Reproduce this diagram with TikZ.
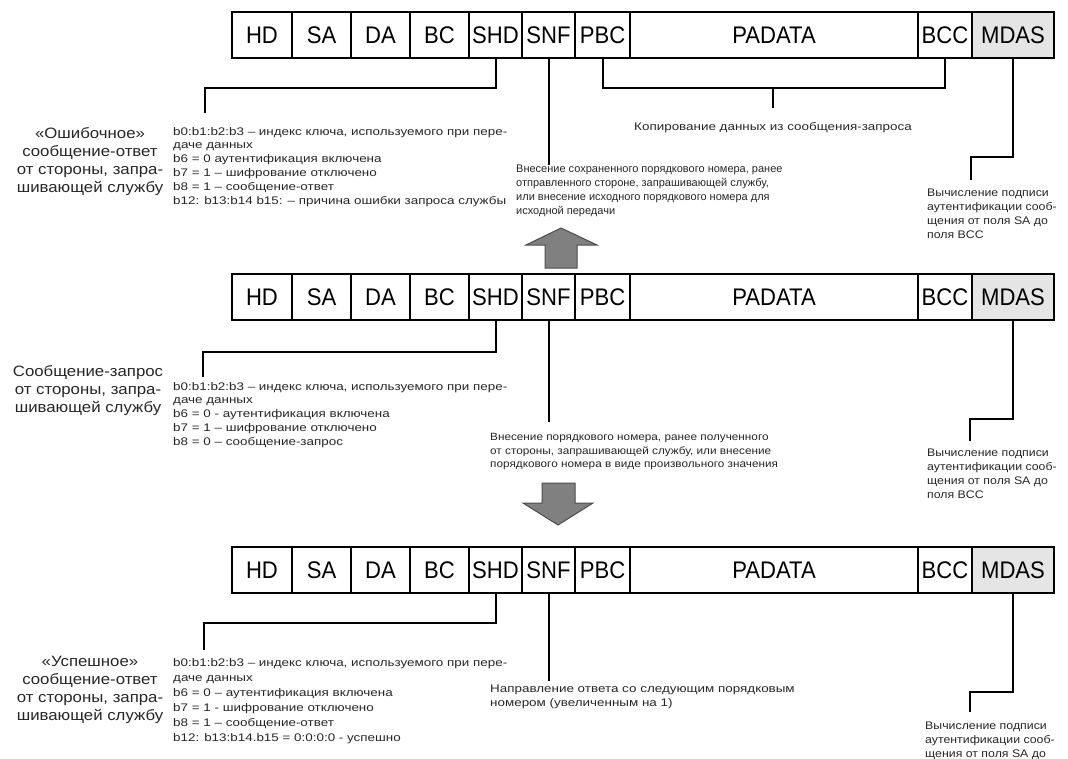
\documentclass[tikz,border=0pt]{standalone}
\usepackage{fontspec}
\setmainfont{Liberation Sans}
\newfontfamily\cellfont[FakeStretch=0.92]{Liberation Sans}
\newfontfamily\widefont[FakeStretch=1.22]{Liberation Sans}
\newfontfamily\sidefont[FakeStretch=1.12]{Liberation Sans}
\usepackage{tikz}
\usetikzlibrary{positioning, calc}
\usepackage{xcolor}
\colorlet{arrowgray}{black!50}
\colorlet{mdasgray}{black!10}

% one row of the frame: #1 = name prefix, #2 = top edge
\newcommand{\msgrow}[2]{%
  \node[cell, minimum width=60pt, anchor=north west] (#1hd) at (232,#2) {HD};
  \node[cell, minimum width=59pt, right=0pt of #1hd] (#1sa) {SA};
  \node[cell, minimum width=59pt, right=0pt of #1sa] (#1da) {DA};
  \node[cell, minimum width=59pt, right=0pt of #1da] (#1bc) {BC};
  \node[cell, minimum width=53pt, right=0pt of #1bc] (#1shd) {SHD};
  \node[cell, minimum width=53pt, right=0pt of #1shd] (#1snf) {SNF};
  \node[cell, minimum width=55pt, right=0pt of #1snf] (#1pbc) {PBC};
  \node[cell, minimum width=288pt, right=0pt of #1pbc] (#1padata) {PADATA};
  \node[cell, minimum width=54pt, right=0pt of #1padata] (#1bcc) {BCC};
  \node[cell, fill=mdasgray, minimum width=82pt, right=0pt of #1bcc] (#1mdas) {MDAS};
  \draw[framebox] (#1hd.north west) rectangle (#1mdas.south east);
}

\begin{document}
\begin{tikzpicture}[
            x=1pt, y=-1pt,
            cell/.style={
                rectangle,
                draw,
                line width=1.1pt,
                inner sep=0pt,
                outer sep=0pt,
                minimum height=46pt,
                font=\cellfont\fontsize{24}{24}\selectfont
            },
            framebox/.style={line width=1.6pt},
            lead/.style={line width=2pt},
            note/.style={
                anchor=north west,
                inner sep=0pt,
                align=left,
                text=black!85,
                font=\fontsize{11}{13.8}\selectfont
            },
            widenote/.style={note, font=\widefont\fontsize{11}{13.8}\selectfont},
            sidenote/.style={note, font=\sidefont\fontsize{11}{13.8}\selectfont},
            side/.style={
                anchor=north,
                inner sep=0pt,
                align=center,
                text=black!85,
                font=\sidefont\fontsize{15}{18}\selectfont
            },
            blockarrow/.style={fill=arrowgray, draw=black!70, line width=1pt}
        ]
            \useasboundingbox (0,0) rectangle (1068,758);

            % Rows
            \msgrow{t}{12}
            \msgrow{m}{274}
            \msgrow{b}{547}

            % Error reply (top row)
            \node[side] (tside) at (90,127) {«Ошибочное»\\сообщение-ответ\\от стороны, запра-\\шивающей службу};
            \node[widenote] (tbits) at (173,127) {b0:b1:b2:b3 – индекс ключа, используемого при пере-\\даче данных\\b6 = 0 аутентификация включена\\b7 = 1 – шифрование отключено\\b8 = 1 – сообщение-ответ\\b12: b13:b14 b15: – причина ошибки запроса службы};
            \node[note] (tsnftext) at (516,165) {Внесение сохраненного порядкового номера, ранее\\отправленного стороне, запрашивающей службу,\\или внесение исходного порядкового номера для\\исходной передачи};
            \node[widenote, anchor=north, align=center] (tcopy) at (773,122) {Копирование данных из сообщения-запроса};
            \node[sidenote] (tmdastext) at (927,189) {Вычисление подписи\\аутентификации сооб-\\щения от поля SA до\\поля BCC};

            \coordinate (tshdend) at (205,113);
            \coordinate (tmdasend) at (971,180);
            \draw[lead] (tshd.south) -- ++(0,30) -| (tshdend);
            \draw[lead] (tsnf.south) -- (tsnf.south |- tsnftext.north);
            \draw[lead] (tpbc.south) -- ++(0,30) coordinate (tbl) -| (tbcc.south);
            \draw[lead] (tbl -| tcopy.north) -- ++(0,20);
            \draw[lead] (tmdas.south) -- ++(0,99) -| (tmdasend);

            % Request (middle row)
            \node[side] (mside) at (88,365) {Сообщение-запрос\\от стороны, запра-\\шивающей службу};
            \node[widenote] (mbits) at (173,382) {b0:b1:b2:b3 – индекс ключа, используемого при пере-\\даче данных\\b6 = 0 - аутентификация включена\\b7 = 1 – шифрование отключено\\b8 = 0 – сообщение-запрос};
            \node[sidenote, font=\sidefont\fontsize{10.5}{13.6}\selectfont] (msnftext) at (490,433) {Внесение порядкового номера, ранее полученного\\от стороны, запрашивающей службу, или внесение\\порядкового номера в виде произвольного значения};
            \node[sidenote] (mmdastext) at (927,449) {Вычисление подписи\\аутентификации сооб-\\щения от поля SA до\\поля BCC};

            \coordinate (mshdend) at (203,377);
            \coordinate (mmdasend) at (970,441);
            \draw[lead] (mshd.south) -- ++(0,32) -| (mshdend);
            \draw[lead] (msnf.south) -- ++(0,102);
            \draw[lead] (mmdas.south) -- ++(0,99) -| (mmdasend);

            % Successful reply (bottom row)
            \node[side] (bside) at (90,656) {«Успешное»\\сообщение-ответ\\от стороны, запра-\\шивающей службу};
            \node[widenote, font=\widefont\fontsize{11}{15}\selectfont] (bbits) at (173,658) {b0:b1:b2:b3 – индекс ключа, используемого при пере-\\даче данных\\b6 = 0 – аутентификация включена\\b7 = 1 - шифрование отключено\\b8 = 1 – сообщение-ответ\\b12: b13:b14.b15 = 0:0:0:0 - успешно};
            \node[widenote] (bsnftext) at (490,685) {Направление ответа со следующим порядковым\\номером (увеличенным на 1)};
            \node[sidenote] (bmdastext) at (925,722) {Вычисление подписи\\аутентификации сооб-\\щения от поля SA до};

            \coordinate (bshdend) at (204,650);
            \coordinate (bmdasend) at (970,712);
            \draw[lead] (bshd.south) -- ++(0,30) -| (bshdend);
            \draw[lead] (bsnf.south) -- ++(0,88);
            \draw[lead] (bmdas.south) -- ++(0,99) -| (bmdasend);

            % Block arrows
            \filldraw[blockarrow] (545,268) -- (545,245) -- (526,245) -- (561,228)
                -- (597,245) -- (577,245) -- (577,268) -- cycle;
            \filldraw[blockarrow] (542,483) -- (575,483) -- (575,503) -- (593,503)
                -- (558,525) -- (523,503) -- (542,503) -- cycle;
        \end{tikzpicture}
\end{document}
